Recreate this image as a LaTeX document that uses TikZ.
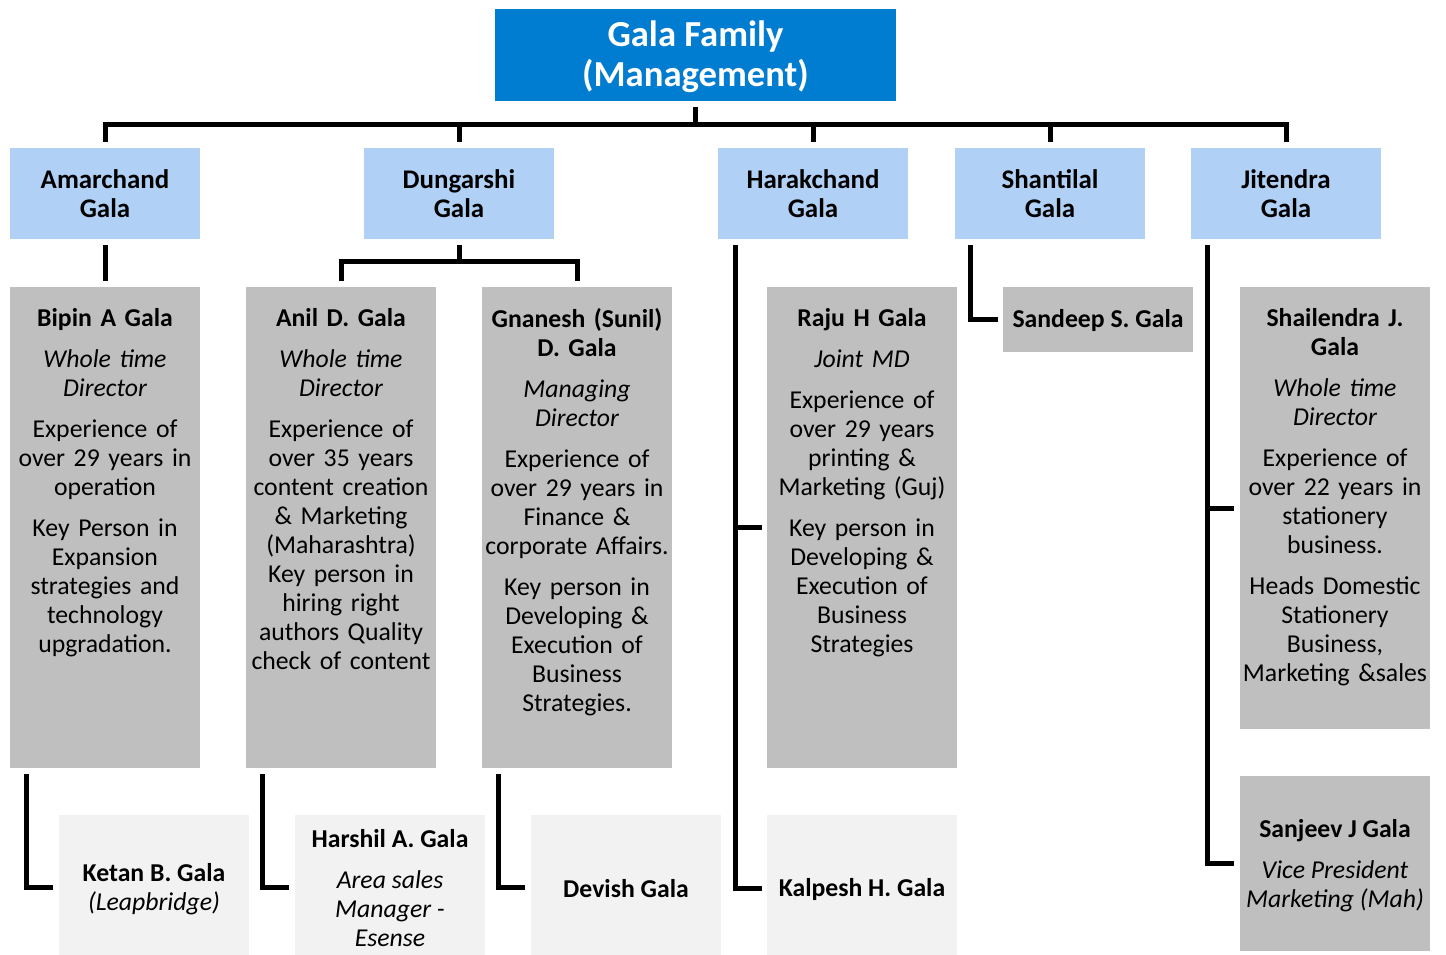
\documentclass[tikz,border=0pt]{standalone}
\usepackage{fontspec}
\setmainfont{Carlito}
\usetikzlibrary{calc}
\definecolor{titleblue}{RGB}{0,124,208}
\definecolor{lblue}{RGB}{176,208,245}
\definecolor{dgray}{RGB}{191,191,191}
\definecolor{lgray}{RGB}{242,242,242}
\newcommand\ital[1]{{\itshape #1}}
\newcommand\bodyfont{\fontsize{19.3}{21.75}\selectfont}
\begin{document}
\begin{tikzpicture}[x=0.75pt,y=-0.75pt,
  box/.style={rectangle,inner sep=0pt,minimum width=142.5pt,align=center,
    font=\bodyfont},
  titlebox/.style={rectangle,inner sep=0pt,fill=titleblue,
    minimum width=300.75pt,minimum height=69pt},
  titletext/.style={inner sep=0pt,align=center,text=white,
    font=\fontsize{27.5}{30}\selectfont\bfseries,yshift=-1.5pt},
  lvlone/.style={box,fill=lblue,minimum height=68.25pt,font=\fontsize{20.2}{21.75}\selectfont\bfseries},
  person/.style={box,fill=dgray},
  child/.style={box,fill=lgray,minimum height=105pt},
  ctext/.style={inner sep=0pt,align=center,font=\bodyfont,yshift=-3pt},
  toptext/.style={anchor=north,inner sep=0pt,text width=160pt,align=center,
    font=\bodyfont,yshift=-16pt},
  conn/.style={draw=black,line width=3.75pt,line join=miter}]
\useasboundingbox (0,0) rectangle (1446,955);

% top
\node[titlebox] (title) at (695.5,55) {};
\node[titletext] (titleT) at (title) {Gala Family\\(Management)};

% level one
\node[lvlone] (amar) at (105,193.5) {Amarchand\\Gala};
\node[lvlone] (dung) at (459,193.5) {Dungarshi\\Gala};
\node[lvlone] (hara) at (813,193.5) {Harakchand\\Gala};
\node[lvlone] (shan) at (1050,193.5) {Shantilal\\Gala};
\node[lvlone] (jite) at (1286,193.5) {Jitendra\\Gala};

% large person boxes
\node[person,minimum height=360.75pt] (bipin) at (105,527.5) {};
\node[person,minimum height=360.75pt] (anil) at (341,527.5) {};
\node[person,minimum height=360.75pt] (gnan) at (577,527.5) {};
\node[person,minimum height=360.75pt] (raju) at (862,527.5) {};
\node[person,minimum height=48.75pt] (sandeep) at (1098,319.5) {};
\node[ctext,font=\bodyfont\bfseries,yshift=2.5pt] (sandeepT) at (sandeep) {Sandeep S. Gala};
\node[person,minimum height=331.5pt] (shail) at (1335,508) {};
\node[person,minimum height=131.25pt] (sanjeev) at (1335,863.5) {};
\node[ctext,yshift=1pt] (sanjeevT) at (sanjeev) {\textbf{Sanjeev J Gala}\\[9pt]\ital{Vice President}\\\ital{Marketing (Mah)}};

\node[toptext] (bipinT) at (bipin.north) {\textbf{Bipin A Gala}\\[9pt]\ital{Whole time}\\\ital{Director}\\[9pt]Experience of\\over 29 years in\\operation\\[9pt]Key Person in\\Expansion\\strategies and\\technology\\upgradation.};
\node[toptext] (anilT) at (anil.north) {\textbf{Anil D. Gala}\\[9pt]\ital{Whole time}\\\ital{Director}\\[9pt]Experience of\\over 35 years\\content creation\\\& Marketing\\(Maharashtra)\\Key person in\\hiring right\\authors Quality\\check of content};
\node[toptext] (gnanT) at (gnan.north) {\textbf{Gnanesh (Sunil)}\\\textbf{D. Gala}\\[9pt]\ital{Managing}\\\ital{Director}\\[9pt]Experience of\\over 29 years in\\Finance \&\\corporate Affairs.\\[9pt]Key person in\\Developing \&\\Execution of\\Business\\Strategies.};
\node[toptext] (rajuT) at (raju.north) {\textbf{Raju H Gala}\\[9pt]\ital{Joint MD}\\[9pt]Experience of\\over 29 years\\printing \&\\Marketing (Guj)\\[9pt]Key person in\\Developing \&\\Execution of\\Business\\Strategies};
\node[toptext] (shailT) at (shail.north) {\textbf{Shailendra J.}\\\textbf{Gala}\\[9pt]\ital{Whole time}\\\ital{Director}\\[9pt]Experience of\\over 22 years in\\stationery\\business.\\[9pt]Heads Domestic\\Stationery\\Business,\\Marketing \&sales};

% children
\node[child] (ketan) at (154,885) {};
\node[ctext] (ketanT) at (ketan) {\textbf{Ketan B. Gala}\\\ital{(Leapbridge)}};
\node[child] (harshil) at (390,885) {};
\node[ctext,yshift=0.5pt] (harshilT) at (harshil) {\textbf{Harshil A. Gala}\\[9pt]\ital{Area sales}\\\ital{Manager -}\\\ital{Esense}};
\node[child] (devish) at (626,885) {};
\node[ctext,font=\bodyfont\bfseries] (devishT) at (devish) {Devish Gala};
\node[child] (kalpesh) at (862,885) {};
\node[ctext,font=\bodyfont\bfseries] (kalpeshT) at (kalpesh) {Kalpesh H. Gala};

% connectors: top bus
\coordinate (busy) at (0,125);
\draw[conn] ($(title.south)+(0,6)$) -- (title.south |- busy);
\draw[conn] ($(amar.north)+(0,-6)$) |- ($(jite.north)+(0,-23)$) -- ($(jite.north)+(0,-6)$);
\draw[conn] ($(dung.north)+(0,-6)$) -- (dung.north |- busy);
\draw[conn] ($(hara.north)+(0,-6)$) -- (hara.north |- busy);
\draw[conn] ($(shan.north)+(0,-6)$) -- (shan.north |- busy);

% Amarchand
\draw[conn] ($(amar.south)+(0,6)$) -- ($(bipin.north)+(0,-6)$);
% Dungarshi
\coordinate (dbus) at ($(gnan.north)+(0,-25)$);
\draw[conn] ($(dung.south)+(0,6)$) -- (dung.south |- dbus);
\draw[conn] ($(anil.north)+(0,-6)$) |- (dbus) -- ($(gnan.north)+(0,-6)$);
% Harakchand
\coordinate (hx) at ($(hara.south west)+(18,6)$);
\draw[conn] (hx) |- ($(kalpesh.west)+(-5,3)$);
\draw[conn] (hx |- raju.west) -- ($(raju.west)+(-5,0)$);
% Shantilal
\draw[conn] ($(shan.south west)+(16,6)$) |- ($(sandeep.west)+(-5,0)$);
% Jitendra
\coordinate (jx) at ($(jite.south west)+(17,6)$);
\draw[conn] (jx) |- ($(sanjeev.west)+(-6,0)$);
\draw[conn] (jx |- shail.west) -- ($(shail.west)+(-6,0)$);
% grandchildren
\draw[conn] ($(bipin.south west)+(17,6)$) |- ($(ketan.west)+(-6,2)$);
\draw[conn] ($(anil.south west)+(17,6)$) |- ($(harshil.west)+(-6,2)$);
\draw[conn] ($(gnan.south west)+(17,6)$) |- ($(devish.west)+(-6,2)$);
\end{tikzpicture}
\end{document}
